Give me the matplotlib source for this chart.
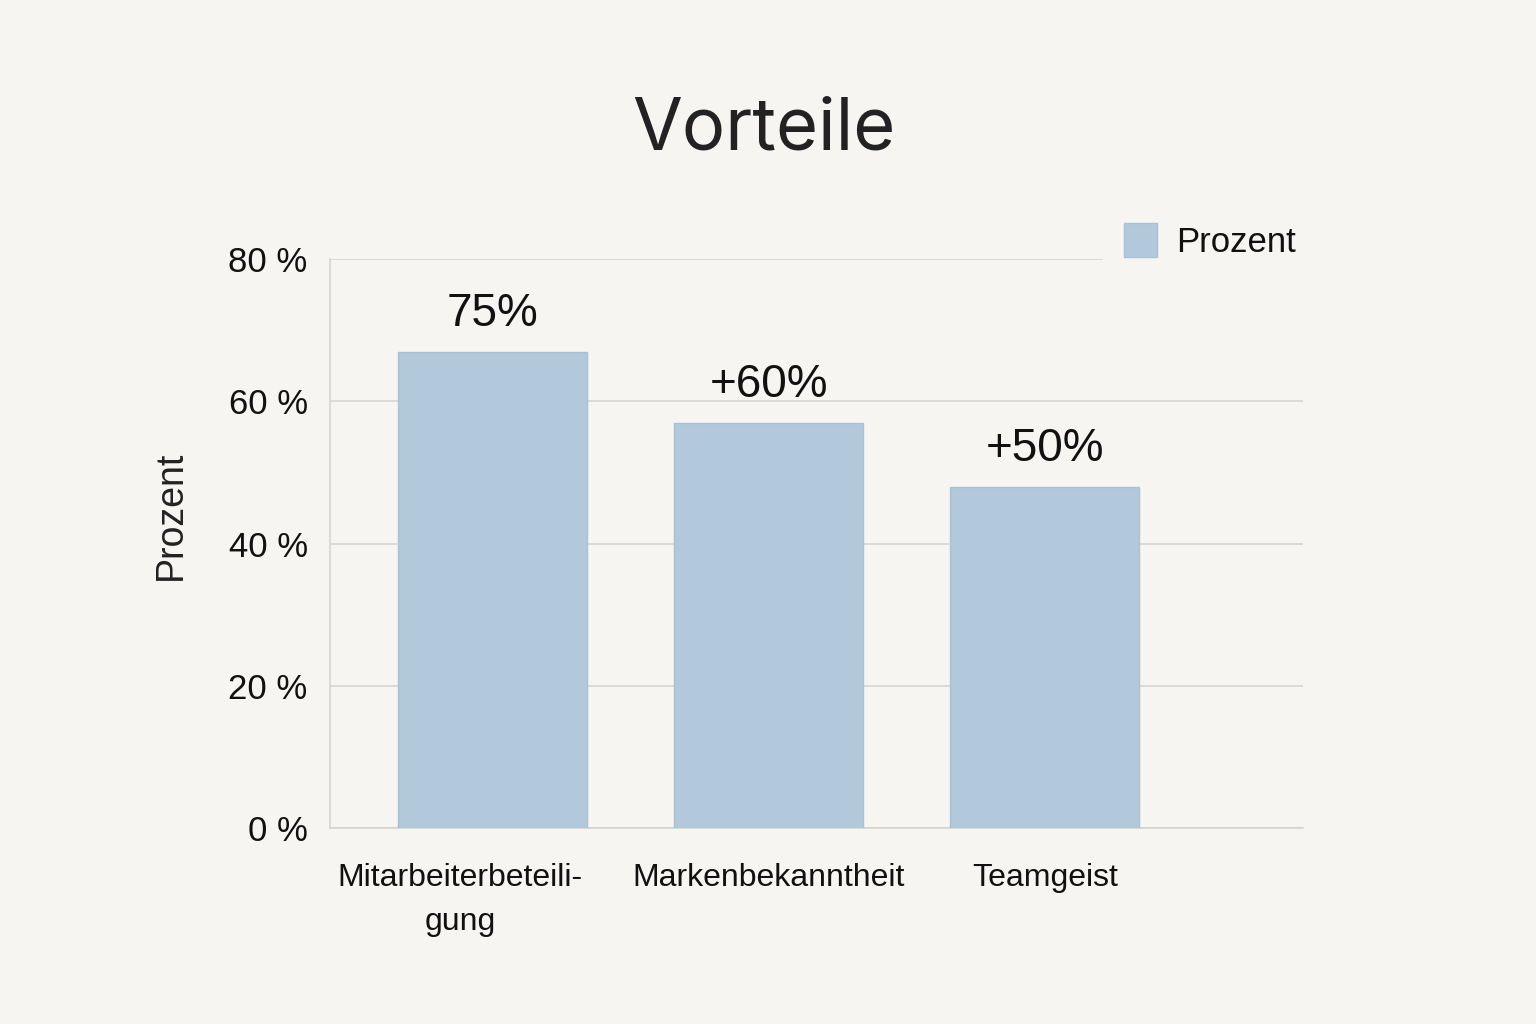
import matplotlib
matplotlib.use("Agg")
import matplotlib.pyplot as plt
from matplotlib.transforms import ScaledTranslation

# data
categories = ["Mitarbeiterbeteili-\ngung", "Markenbekanntheit", "Teamgeist"]
values = [67, 57, 48]
bar_labels = ["75%", "+60%", "+50%"]
yticks = [0, 20, 40, 60, 80]
ytick_labels = ["0 %", "20 %", "40 %", "60 %", "80 %"]

bg = "#f7f5f1"
bar_col = "#b2c9dc"
grid_col = "#d2d2d0"
txt = "#111111"

plt.rcParams["font.family"] = ["Liberation Sans", "DejaVu Sans"]

fig = plt.figure(figsize=(15.36, 10.24), dpi=100, facecolor=bg)
ax = fig.add_axes([0.2148, 0.1914, 0.6335, 0.5556])
ax.set_facecolor(bg)

x = list(range(len(categories)))
bars = ax.bar(x, values, width=0.685, color=bar_col, edgecolor="#a9c1d6",
              linewidth=1, label="Prozent", zorder=3)

for b, lab in zip(bars, bar_labels):
    ax.annotate(lab, (b.get_x() + b.get_width() / 2, b.get_height()),
                xytext=(0, 11), textcoords="offset points",
                ha="center", va="bottom", fontsize=33, color=txt, zorder=4)

ax.set_xlim(-0.59, 2.935)
ax.set_ylim(0, 80)
ax.set_yticks(yticks)
ax.set_yticklabels(ytick_labels, fontsize=25, color=txt)
ax.set_xticks(x)
ax.set_xticklabels(categories, fontsize=23, color=txt, linespacing=1.6)
ax.tick_params(axis="both", length=0)
ax.tick_params(axis="y", pad=16)
ax.tick_params(axis="x", pad=25)

# first label sits a bit left of its bar
lbl0 = ax.get_xticklabels()[0]
lbl0.set_transform(lbl0.get_transform() + ScaledTranslation(-0.33, 0, fig.dpi_scale_trans))

ax.grid(axis="y", color=grid_col, linewidth=1.1, zorder=0)
for s in ["top", "right"]:
    ax.spines[s].set_visible(False)
ax.spines["left"].set_color(grid_col)
ax.spines["bottom"].set_color(grid_col)
ax.spines["left"].set_linewidth(1.1)
ax.spines["bottom"].set_linewidth(1.1)

ax.set_ylabel("Prozent", fontsize=27, color="#222222")
ax.yaxis.set_label_coords(-0.145, 0.55)

fig.text(0.497, 0.873, "Vorteile", ha="center", va="center", fontsize=52,
         color="#222222", family=["Inter", "DejaVu Sans"])

leg = ax.legend(loc="center left", bbox_to_anchor=(1086 / 1536, 1 - 241 / 1024),
                bbox_transform=fig.transFigure, fontsize=25, frameon=True,
                facecolor=bg, edgecolor="none", framealpha=1,
                handlelength=0.95, handleheight=1.1, handletextpad=0.55,
                borderpad=0.6)
leg.set_zorder(5)
for t in leg.get_texts():
    t.set_color(txt)

fig.savefig("out.png", dpi=100, facecolor=bg)
